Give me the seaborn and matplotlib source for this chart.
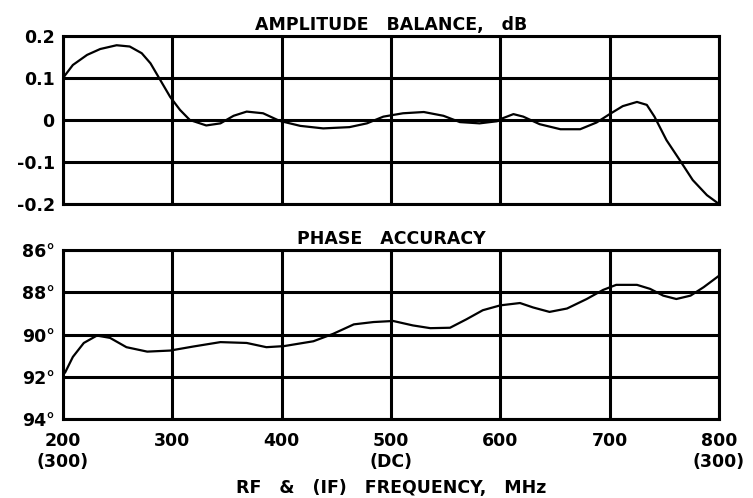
import numpy as np
import pandas as pd
import matplotlib
matplotlib.use("Agg")
import matplotlib.pyplot as plt
import seaborn as sns

# Amplitude balance curve (dB)
amp_freq = [200, 202, 209, 222, 234, 249, 261, 272, 280, 289, 298, 307, 316, 331, 344,
            356, 368, 383, 398, 417, 438, 462, 478, 493, 511, 530, 548, 563, 581,
            597, 600, 612, 621, 636, 655, 673, 688, 700, 712, 725, 734, 741, 752,
            764, 776, 789, 800]
amp_db = [0.100, 0.107, 0.131, 0.155, 0.169, 0.178, 0.175, 0.159, 0.135, 0.095, 0.055,
          0.024, 0.000, -0.013, -0.008, 0.010, 0.020, 0.016, -0.002, -0.014, -0.020,
          -0.017, -0.008, 0.008, 0.016, 0.019, 0.010, -0.005, -0.008, -0.003, 0.002,
          0.014, 0.008, -0.010, -0.022, -0.022, -0.006, 0.014, 0.033, 0.043, 0.036,
          0.008, -0.048, -0.095, -0.143, -0.179, -0.200]

# Phase accuracy curve (degrees)
ph_freq = [200, 202, 209, 219, 231, 243, 258, 277, 298, 319, 344, 368, 386, 402, 429,
           447, 466, 484, 502, 520, 536, 554, 569, 584, 600, 618, 630, 645, 661,
           679, 694, 706, 725, 737, 749, 761, 774, 786, 800]
ph_deg = [91.90, 91.79, 91.06, 90.40, 90.05, 90.16, 90.60, 90.81, 90.76, 90.57, 90.36,
          90.40, 90.60, 90.55, 90.32, 89.97, 89.52, 89.41, 89.36, 89.57, 89.70, 89.68,
          89.28, 88.85, 88.62, 88.51, 88.72, 88.93, 88.77, 88.32, 87.89, 87.65, 87.65,
          87.84, 88.16, 88.32, 88.16, 87.76, 87.22]

x_ticks = [200, 300, 400, 500, 600, 700, 800]
x_labels = ["200\n(300)", "300", "400", "500\n(DC)", "600", "700", "800\n(300)"]
amp_ticks = [0.2, 0.1, 0, -0.1, -0.2]
amp_labels = ["0.2", "0.1", "0", "-0.1", "-0.2"]
ph_ticks = [86, 88, 90, 92, 94]
ph_labels = ["86°", "88°", "90°", "92°", "94°"]

sns.set_style("white")
plt.rcParams['font.family'] = ['DejaVu Sans']
plt.rcParams['text.color'] = 'black'
plt.rcParams['xtick.color'] = 'black'
plt.rcParams['ytick.color'] = 'black'
plt.rcParams['axes.labelcolor'] = 'black'

fig = plt.figure(figsize=(7.53, 4.98), dpi=100)
ax1 = fig.add_axes([0.0837, 0.5904, 0.8711, 0.3373])
ax2 = fig.add_axes([0.0837, 0.1586, 0.8711, 0.3394])

amp_df = pd.DataFrame({"freq": amp_freq, "db": amp_db})
ph_df = pd.DataFrame({"freq": ph_freq, "deg": ph_deg})

sns.lineplot(data=amp_df, x="freq", y="db", ax=ax1, color="black", linewidth=1.6)
sns.lineplot(data=ph_df, x="freq", y="deg", ax=ax2, color="black", linewidth=1.6)

font = dict(fontsize=12.5, fontweight="bold", color="black")

for ax in (ax1, ax2):
    ax.set_xlim(200, 800)
    ax.set_xticks(x_ticks)
    ax.grid(True, color="black", linewidth=2.2)
    ax.set_axisbelow(True)
    for s in ax.spines.values():
        s.set_color("black")
        s.set_linewidth(2.2)
    ax.tick_params(length=0, pad=6)
    ax.set_xlabel("")
    ax.set_ylabel("")

ax1.set_ylim(-0.2, 0.2)
ax1.set_yticks(amp_ticks)
ax1.set_yticklabels(amp_labels, **font)
ax1.set_xticklabels([])
ax1.set_title("AMPLITUDE   BALANCE,   dB", pad=4, **font)

ax2.set_ylim(94, 86)
ax2.set_yticks(ph_ticks)
ax2.set_yticklabels(ph_labels, **font)
ax2.set_xticklabels(x_labels, linespacing=1.25, **font)
ax2.tick_params(axis="x", pad=9)
ax2.set_title("PHASE   ACCURACY", pad=4, **font)
ax2.set_xlabel("RF   &   (IF)   FREQUENCY,   MHz", labelpad=6, **font)

fig.savefig("out.png", dpi=100)
